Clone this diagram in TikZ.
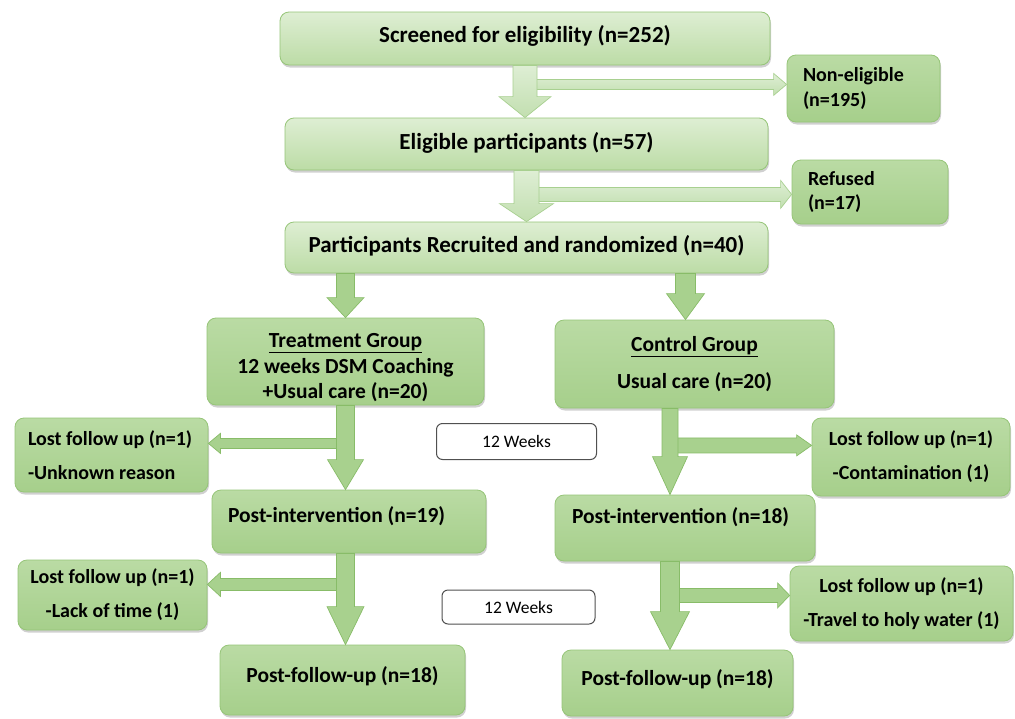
\documentclass[tikz,border=0pt]{standalone}
\usepackage{fontspec}
\setmainfont{Carlito}
\usepackage{xcolor}
\definecolor{boxgreen}{RGB}{166,207,139}
\definecolor{boxgreenlt}{RGB}{186,219,164}
\definecolor{boxedge}{RGB}{150,197,120}
\definecolor{paletop}{RGB}{222,238,211}
\definecolor{palemid}{RGB}{242,248,238}
\definecolor{palebot}{RGB}{188,220,166}
\definecolor{arrowgreen}{RGB}{168,209,142}
\definecolor{arrowedge}{RGB}{136,188,104}
\definecolor{arrowpale}{RGB}{222,238,212}
\definecolor{arrowpaleedge}{RGB}{168,208,144}
\definecolor{weekedge}{RGB}{80,80,80}
\usetikzlibrary{calc,shadows}

\tikzset{
  greenbox/.style={draw=boxedge, line width=0.8pt, rounded corners=9pt,
    top color=boxgreenlt, bottom color=boxgreen, inner sep=0pt, align=center,
    font=\bfseries\fontsize{21.5}{25.5}\selectfont,
    drop shadow={shadow xshift=1pt, shadow yshift=-2.5pt, opacity=0.3, fill=black!60}},
  palebox/.style={greenbox, top color=paletop, middle color=palemid, bottom color=palebot,
    font=\bfseries\fontsize{23}{27}\selectfont},
  sidebox/.style={greenbox, font=\bfseries\fontsize{20}{24}\selectfont},
  weekbox/.style={draw=weekedge, fill=white, line width=1pt, rounded corners=6pt,
    font=\fontsize{17.5}{20}\selectfont},
  bigarrow/.style={draw=arrowedge, fill=arrowgreen, line width=0.7pt},
  palearrow/.style={draw=arrowpaleedge, top color=arrowpale, bottom color=arrowgreen!70, line width=0.7pt}
}

% block arrows: [style]{start}{tip}{shaft half}{head half}{head length}
\newcommand{\vblock}[6][bigarrow]{%
  \path[#1] let \p1=(#2), \p2=(#3) in
    (\x1-#4pt,\y1) -- (\x1-#4pt,\y2+#6pt) -- (\x1-#5pt,\y2+#6pt) -- (\x1,\y2)
    -- (\x1+#5pt,\y2+#6pt) -- (\x1+#4pt,\y2+#6pt) -- (\x1+#4pt,\y1) -- cycle;}
\newcommand{\hblock}[6][bigarrow]{%
  \path[#1] let \p1=(#2), \p2=(#3) in
    (\x1,\y1+#4pt) -- (\x2+#6pt,\y1+#4pt) -- (\x2+#6pt,\y1+#5pt) -- (\x2,\y1)
    -- (\x2+#6pt,\y1-#5pt) -- (\x2+#6pt,\y1-#4pt) -- (\x1,\y1-#4pt) -- cycle;}

\begin{document}
\begin{tikzpicture}[x=1pt,y=-1pt]
  \fill[white] (0,0) rectangle (1015,718);
  \useasboundingbox (0,0) rectangle (1015,718);

  % enrolment
  \node[palebox, minimum width=490pt, minimum height=53pt, text depth=8.5pt] (scr) at (525,38.5) {Screened for eligibility (n=252)};
  \node[sidebox, text width=121pt, inner xsep=16pt, align=flush left, minimum height=67pt] (nonel) at (863.5,88.5) {Non-eligible\\[1pt](n=195)};
  \node[palebox, minimum width=483pt, minimum height=52pt, text depth=5.5pt] (elig) at (526.5,144) {Eligible participants (n=57)};
  \node[sidebox, text width=124pt, inner xsep=16pt, align=flush left, minimum height=64pt] (ref) at (870,192) {Refused\\[0pt](n=17)};
  \node[palebox, minimum width=483pt, minimum height=51pt, text depth=6.5pt] (rand) at (526.5,247.5) {Participants Recruited and randomized (n=40)};

  % groups
  \node[greenbox, minimum width=277pt, minimum height=87pt, text height=78pt] (tg) at (345.5,361.5) {\underline{Treatment Group}\\12 weeks DSM Coaching\\+Usual care (n=20)};
  \node[greenbox, minimum width=279pt, minimum height=88pt] (cg) at (694.5,364) {\underline{Control Group}\\[11.5pt]Usual care (n=20)};

  \node[sidebox, text width=167pt, inner xsep=13pt, align=flush left, minimum height=74pt] (ltg1) at (111.5,455) {Lost follow up (n=1)\\[10pt]-Unknown reason};
  \node[weekbox, minimum width=160pt, minimum height=36pt] (wk1) at (516.5,441.5) {12 Weeks};
  \node[sidebox, minimum width=198pt, minimum height=78pt] (lcg1) at (911,457) {Lost follow up (n=1)\\[10pt]-Contamination (1)};

  \node[greenbox, text width=242pt, inner xsep=16pt, align=flush left, minimum height=63pt, text depth=13pt] (ptg) at (349,521.5) {Post-intervention (n=19)};
  \node[greenbox, text width=226pt, inner xsep=17pt, align=flush left, minimum height=66pt, text depth=24pt] (pcg) at (685,528) {Post-intervention (n=18)};

  \node[sidebox, minimum width=189pt, minimum height=70pt] (ltg2) at (112.5,595) {Lost follow up (n=1)\\[10pt]-Lack of time (1)};
  \node[weekbox, minimum width=153pt, minimum height=34pt] (wk2) at (518.5,607) {12 Weeks};
  \node[sidebox, minimum width=223pt, minimum height=75pt] (lcg2) at (901.5,603.5) {Lost follow up (n=1)\\[10pt]-Travel to holy water (1)};

  \node[greenbox, minimum width=245pt, minimum height=70pt, text depth=11pt] (ftg) at (342.5,680) {Post-follow-up (n=18)};
  \node[greenbox, minimum width=231pt, minimum height=66pt, text depth=11pt] (fcg) at (677.5,683) {Post-follow-up (n=18)};

  % arrows
  \coordinate (b1) at ($(scr.south)+(0,19)$);
  \coordinate (b2) at ($(elig.south)+(0,24)$);
  \hblock[palearrow]{b1}{nonel.west |- b1}{5}{11}{-13}
  \vblock[palearrow]{scr.south}{scr.south |- elig.north}{12}{26}{21}
  \hblock[palearrow]{b2}{ref.west |- b2}{7}{14}{-11}
  \vblock[palearrow]{elig.south}{elig.south |- rand.north}{12.5}{27}{18}

  \coordinate (c4) at ($(cg.north)+(-9,0)$);
  \coordinate (c6) at ($(cg.south)+(-24.5,0)$);
  \vblock{tg.north |- rand.south}{tg.north}{9}{18.5}{20}
  \vblock{c4 |- rand.south}{c4}{10}{19}{26}

  \coordinate (b3) at ($(tg.south)+(0,38)$);
  \coordinate (b4) at ($(c6)+(0,37)$);
  \hblock{b3}{ltg1.east |- b3}{5}{10}{12}
  \vblock{tg.south}{tg.south |- ptg.north}{9}{18}{30}
  \hblock{b4}{lcg1.west |- b4}{7.5}{10.5}{-15}
  \vblock{c6}{c6 |- pcg.north}{8}{17.5}{38}

  \coordinate (c7) at (tg.south |- ptg.south);
  \coordinate (c8) at (c6 |- pcg.south);
  \coordinate (b5) at ($(c7)+(0,31)$);
  \coordinate (b6) at ($(c8)+(0,34)$);
  \hblock{b5}{ltg2.east |- b5}{6}{12}{13}
  \vblock{c7}{c7 |- ftg.north}{9}{18.5}{38}
  \hblock{b6}{lcg2.west |- b6}{7}{12.5}{-12}
  \vblock{c8}{c8 |- fcg.north}{9.5}{19.5}{38}
\end{tikzpicture}
\end{document}
